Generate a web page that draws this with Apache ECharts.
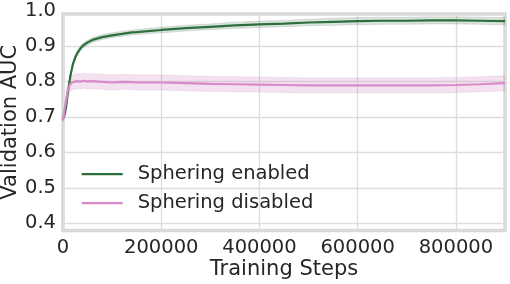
<!DOCTYPE html>
<html>
<head>
<meta charset="utf-8">
<script src="https://cdn.jsdelivr.net/npm/echarts@6/dist/echarts.min.js"></script>
<style>html,body{margin:0;padding:0;background:#fff}#c{width:510px;height:284px}</style>
</head>
<body>
<div id="c"></div>
<script>
// ---- data ----
var steps = [0, 3000, 6000, 10000, 15000, 20000, 25000, 30000, 35000, 40000, 50000, 60000, 80000, 100000, 120000, 140000, 150000, 200000, 250000, 300000, 350000, 400000, 450000, 500000, 550000, 600000, 650000, 700000, 750000, 800000, 850000, 900000];
var enabledMean = [0.695, 0.705, 0.725, 0.770, 0.815, 0.848, 0.868, 0.882, 0.892, 0.900, 0.910, 0.917, 0.925, 0.930, 0.934, 0.938, 0.939, 0.945, 0.950, 0.954, 0.958, 0.961, 0.963, 0.966, 0.968, 0.970, 0.971, 0.971, 0.972, 0.972, 0.971, 0.970];
var enabledSpread = [0.004, 0.005, 0.006, 0.007, 0.007, 0.007, 0.007, 0.007, 0.007, 0.007, 0.007, 0.007, 0.007, 0.007, 0.007, 0.007, 0.007, 0.008, 0.008, 0.008, 0.009, 0.009, 0.009, 0.009, 0.010, 0.010, 0.010, 0.010, 0.010, 0.010, 0.010, 0.010];
var disabledMean = [0.690, 0.720, 0.745, 0.778, 0.793, 0.798, 0.800, 0.801, 0.799, 0.802, 0.800, 0.801, 0.799, 0.797, 0.799, 0.798, 0.797, 0.797, 0.795, 0.793, 0.792, 0.791, 0.790, 0.789, 0.789, 0.789, 0.789, 0.789, 0.789, 0.790, 0.792, 0.795];
var disabledSpread = [0.005, 0.010, 0.015, 0.018, 0.020, 0.021, 0.021, 0.021, 0.021, 0.021, 0.021, 0.021, 0.021, 0.021, 0.021, 0.021, 0.021, 0.021, 0.021, 0.021, 0.021, 0.021, 0.021, 0.021, 0.021, 0.021, 0.021, 0.021, 0.021, 0.021, 0.021, 0.021];
var seriesNames = ['Sphering enabled', 'Sphering disabled'];

function pairs(vals) { return steps.map(function (s, i) { return [s, vals[i]]; }); }
function bandData(m, sp) { return steps.map(function (s, i) { return [s, m[i] - sp[i], m[i] + sp[i]]; }); }

function bandRender(fill, stroke) {
  return function (params, api) {
    if (params.dataIndex !== 0) return null;
    var top = [], bot = [];
    for (var i = 0; i < steps.length; i++) {
      bot.push(api.coord([api.value(0, i), api.value(1, i)]));
      top.push(api.coord([api.value(0, i), api.value(2, i)]));
    }
    var pts = bot.concat(top.reverse());
    return {
      type: 'polygon',
      shape: { points: pts },
      style: { fill: fill, stroke: stroke, lineWidth: 0.8 },
      silent: true
    };
  };
}

var FONT = 'DejaVu Sans';
var TXT = '#262626';
var GREEN = '#2c6e3c';
var PINK = '#d98ac8';

var chart = echarts.init(document.getElementById('c'), null, { renderer: 'canvas' });
chart.setOption({
  animation: false,
  backgroundColor: '#ffffff',
  grid: [
    { left: 63, right: 5, top: 14, bottom: 53.5, show: true, borderColor: '#d6d6d6', borderWidth: 3.5, backgroundColor: '#ffffff',
      containLabel: false, outerBoundsMode: 'none' },
    { left: 63, right: 5, top: 10.5, bottom: 60.7, show: false, containLabel: false, outerBoundsMode: 'none' }
  ],
  legend: {
    data: seriesNames,
    orient: 'vertical',
    left: 81.7,
    top: 164.2,
    padding: 0,
    itemWidth: 41,
    itemHeight: 20,
    itemGap: 9,
    icon: 'path://M0,0h41v2.2h-41z',
    textStyle: { fontFamily: FONT, fontSize: 19.5, color: TXT, padding: [0, 0, 0, 10] }
  },
  xAxis: [
    {
      type: 'value', gridIndex: 0, min: 0, max: 900000, interval: 200000,
      name: 'Training Steps', nameLocation: 'middle', nameGap: 29, nameMoveOverlap: false,
      nameTextStyle: { fontFamily: FONT, fontSize: 21, color: TXT },
      axisLine: { show: false }, axisTick: { show: false },
      axisLabel: { fontFamily: FONT, fontSize: 19.5, color: TXT, margin: 7, showMaxLabel: false,
        formatter: function (v) { return String(v); } },
      splitLine: { show: true, lineStyle: { color: '#dddddd', width: 1.3 } }
    },
    { type: 'value', gridIndex: 1, min: 0, max: 1, show: false }
  ],
  yAxis: [
    {
      type: 'value', gridIndex: 0, min: 0.38, max: 0.99, splitNumber: 6,
      name: 'Validation AUC', nameLocation: 'middle', nameGap: 41.5, nameMoveOverlap: false,
      nameTextStyle: { fontFamily: FONT, fontSize: 21, color: TXT },
      axisLine: { show: false }, axisTick: { show: false },
      axisLabel: { show: false },
      splitLine: { show: true, lineStyle: { color: '#dddddd', width: 1.3 } }
    },
    {
      type: 'value', gridIndex: 1, min: 0.4, max: 1.0, interval: 0.1,
      axisLine: { show: false }, axisTick: { show: false }, splitLine: { show: false },
      axisLabel: { fontFamily: FONT, fontSize: 19.5, color: TXT, margin: 7,
        formatter: function (v) { return v.toFixed(1); } }
    }
  ],
  series: [
    { type: 'custom', name: 'enabledBand', data: bandData(enabledMean, enabledSpread), encode: { x: 0, y: [1, 2] },
      renderItem: bandRender('rgba(44,110,60,0.18)', 'rgba(120,130,120,0.28)'), silent: true, z: 1 },
    { type: 'custom', name: 'disabledBand', data: bandData(disabledMean, disabledSpread), encode: { x: 0, y: [1, 2] },
      renderItem: bandRender('rgba(217,138,200,0.25)', 'rgba(200,160,190,0.3)'), silent: true, z: 1 },
    { type: 'line', name: seriesNames[0], data: pairs(enabledMean), symbol: 'none', color: GREEN, lineStyle: { color: GREEN, width: 2.2 }, z: 3 },
    { type: 'line', name: seriesNames[1], data: pairs(disabledMean), symbol: 'none', color: PINK, lineStyle: { color: PINK, width: 2.2 }, z: 3 }
  ]
});
</script>
</body>
</html>
